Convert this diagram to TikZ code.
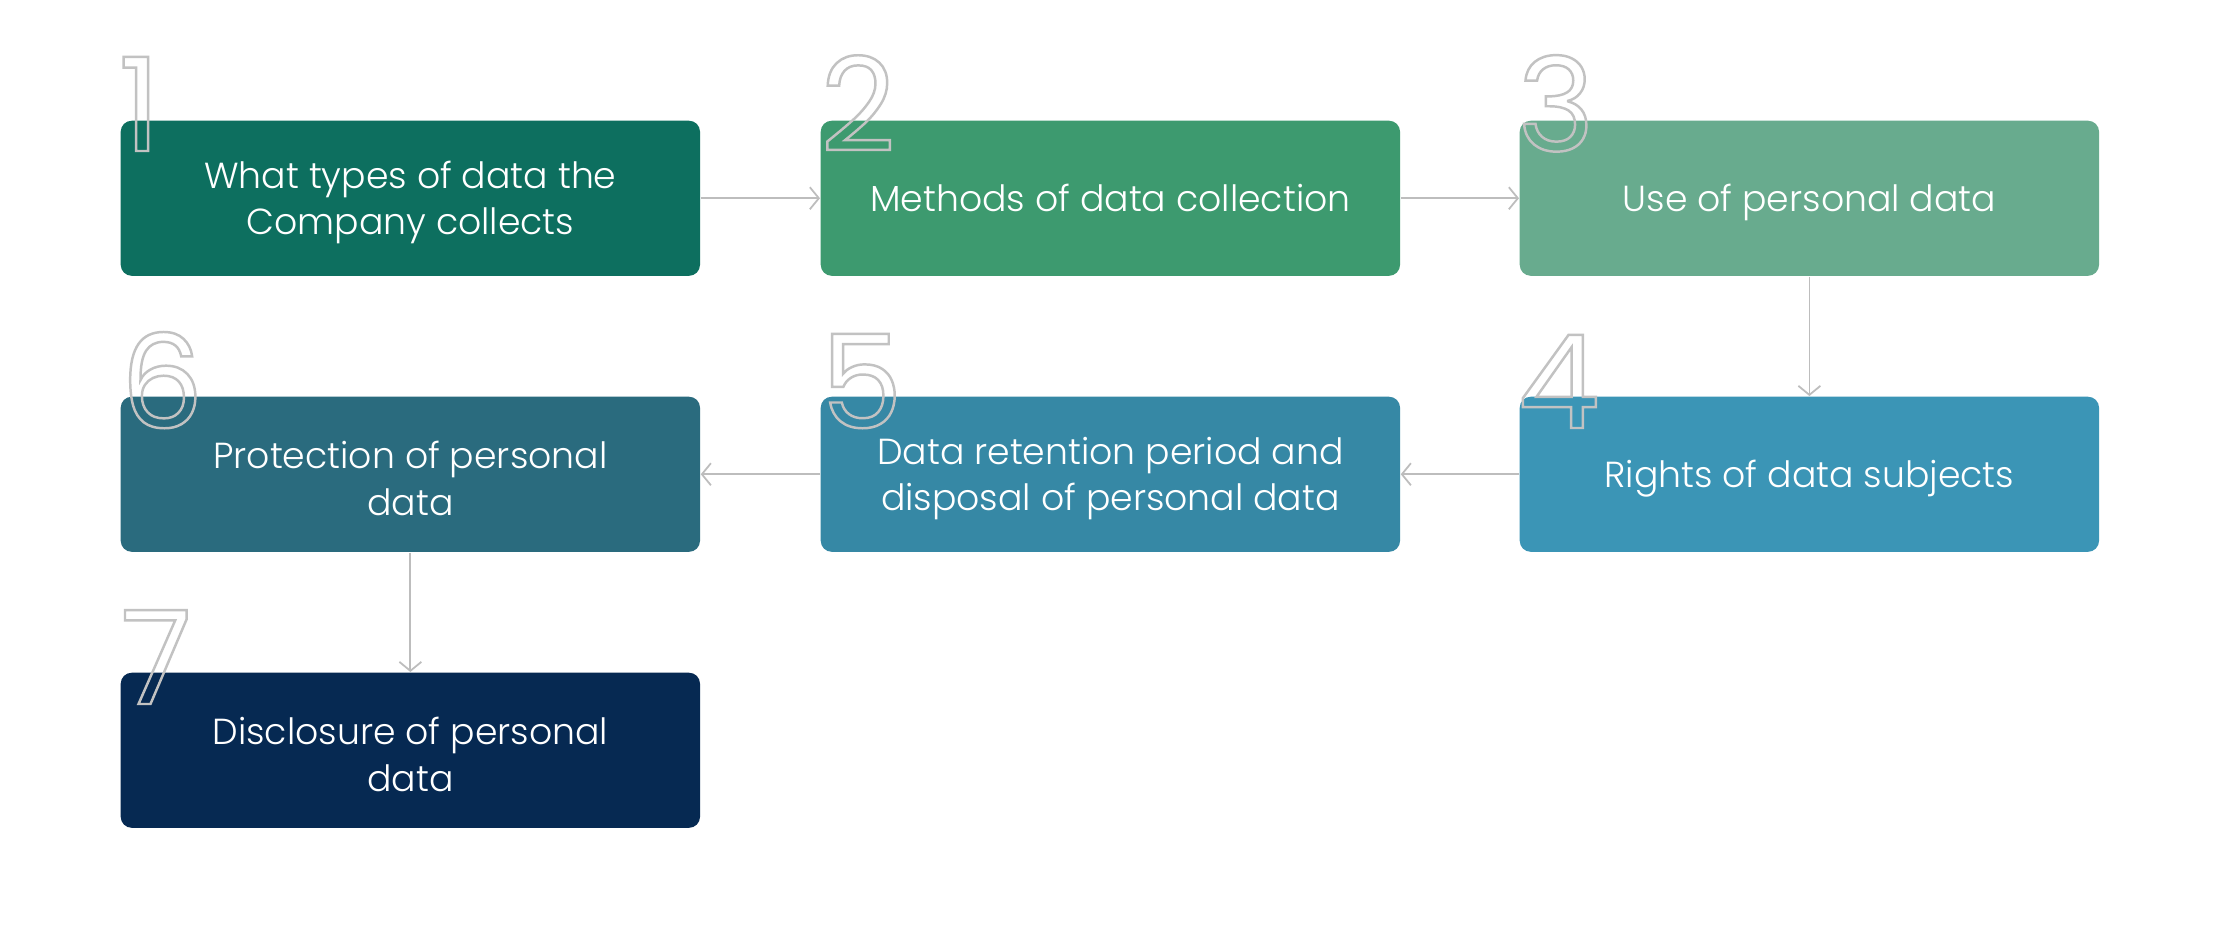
\documentclass[tikz,border=0pt]{standalone}
\usepackage{fontspec}
\IfFontExistsTF{Poppins Light}{\setmainfont{Poppins Light}}{\setmainfont{Poppins}}
\newfontfamily\digitfont{Poppins}
\usetikzlibrary{arrows.meta}
\definecolor{cA}{HTML}{0D6F5F}
\definecolor{cB}{HTML}{3D9A6F}
\definecolor{cC}{HTML}{68AB8E}
\definecolor{cD}{HTML}{3B95B6}
\definecolor{cE}{HTML}{3688A5}
\definecolor{cF}{HTML}{2A6B7E}
\definecolor{cG}{HTML}{062952}
\definecolor{linegray}{HTML}{BDBDBD}
\definecolor{digitgray}{HTML}{C2C2C2}
\newcommand\outdigit[1]{{\color{digitgray}\special{pdf:literal direct 1 Tr 0.7 w}#1\special{pdf:literal direct 0 Tr}}}
\begin{document}
\begin{tikzpicture}[x=0.01cm,y=-0.01cm,
  stepbox/.style={fill=#1, rounded corners=0.11cm, minimum width=5.79cm, minimum height=1.55cm,
    inner sep=0pt, anchor=north west},
  steptext/.style={text=white, align=center, font=\fontsize{10.3}{13.2}\selectfont, inner sep=0pt, yshift=-1.2pt},
  steptextone/.style={steptext, yshift=1.2pt},
  conn/.style={draw=linegray, line width=0.5pt, -{Straight Barb[length=0.9mm,width=2.2mm,line width=0.5pt]}},
  num/.style={anchor=base west, inner sep=0pt, font=\digitfont\fontsize{37}{37}\selectfont}]
\path[use as bounding box, fill=white] (0,0) rectangle (2220,948);
\node[stepbox=cA, label={[steptext]center:What types of data the\\Company collects}] (b1) at (120,120) {};
\node[stepbox=cB, label={[steptextone]center:Methods of data collection}] (b2) at (820,120) {};
\node[stepbox=cC, label={[steptext]center:Use of personal data}] (b3) at (1519,120) {};
\node[stepbox=cD, label={[steptext]center:Rights of data subjects}] (b4) at (1519,396) {};
\node[stepbox=cE, label={[steptext]center:Data retention period and\\disposal of personal data}] (b5) at (820,396) {};
\node[stepbox=cF, label={[steptext]center:Protection of personal\\data}] (b6) at (120,396) {};
\node[stepbox=cG, label={[steptext]center:Disclosure of personal\\data}] (b7) at (120,672) {};
\draw[conn] (b1.east) -- (b2.west);
\draw[conn] (b2.east) -- (b3.west);
\draw[conn] (b3.south) -- (b4.north);
\draw[conn] (b4.west) -- (b5.east);
\draw[conn] (b5.west) -- (b6.east);
\draw[conn] (b6.south) -- (b7.north);
\node[num] (n1) at (118,151) {\outdigit{1}};
\node[num] (n2) at (820,151) {\outdigit{2}};
\node[num] (n3) at (1517,151) {\outdigit{3}};
\node[num] (n4) at (1517,428) {\outdigit{4}};
\node[num] (n5) at (820,428) {\outdigit{5}};
\node[num] (n6) at (120,428) {\outdigit{6}};
\node[num] (n7) at (120,704) {\outdigit{7}};
\end{tikzpicture}
\end{document}
